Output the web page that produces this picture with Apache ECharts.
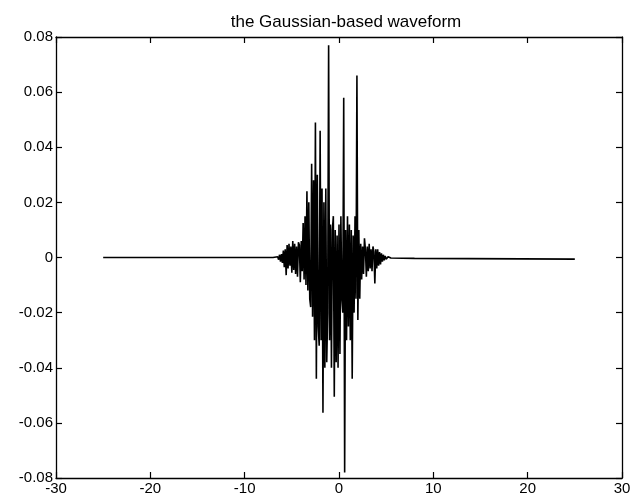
<!DOCTYPE html>
<html>
<head>
<meta charset="utf-8">
<script src="https://cdn.jsdelivr.net/npm/echarts@6/dist/echarts.min.js"></script>
<style>
html,body{margin:0;padding:0;background:#fff;}
#chart{width:642px;height:499px;}
</style>
</head>
<body>
<div id="chart"></div>
<script>
var titleText = "the Gaussian-based waveform";
var xTicks = [-30, -20, -10, 0, 10, 20, 30];
var yTicks = [-0.08, -0.06, -0.04, -0.02, 0, 0.02, 0.04, 0.06, 0.08];

var xs = [-25, -7,
  -6.5, -6.4, -6.3, -6.2, -6.1, -6.0, -5.9, -5.8, -5.7, -5.6, -5.5, -5.4, -5.3, -5.2, -5.1,
  -5.0, -4.9, -4.8, -4.7, -4.6, -4.5, -4.4, -4.3, -4.2, -4.1,
  -4.0, -3.9, -3.8, -3.7, -3.6, -3.5, -3.4, -3.3, -3.2, -3.1,
  -3.0, -2.9, -2.8, -2.7, -2.6, -2.5, -2.4, -2.3, -2.2, -2.1,
  -2.0, -1.9, -1.8, -1.7, -1.6, -1.5, -1.4, -1.3, -1.2, -1.1,
  -1.0, -0.9, -0.8, -0.7, -0.6, -0.5, -0.4, -0.3, -0.2, -0.1,
  0.0, 0.1, 0.2, 0.3, 0.4, 0.5, 0.6, 0.7, 0.8, 0.9,
  1.0, 1.1, 1.2, 1.3, 1.4, 1.5, 1.6, 1.7, 1.8, 1.9,
  2.0, 2.1, 2.2, 2.3, 2.4, 2.5, 2.6, 2.7, 2.8, 2.9,
  3.0, 3.1, 3.2, 3.3, 3.4, 3.5, 3.6, 3.7, 3.8, 3.9,
  4.0, 4.1, 4.2, 4.3, 4.4, 4.5, 4.6, 4.7, 4.8, 4.9,
  5.0, 5.2, 5.5, 8, 25];

var ys = [0, 0,
  0.0003, -0.0008, 0.0010, -0.0015, 0.0012, -0.0020, 0.0025, -0.0035, 0.0030, -0.0064, 0.0045, -0.0040, 0.0050, -0.0030, 0.0040,
  -0.0055, 0.0060, -0.0045, 0.0050, -0.0060, 0.0040, -0.0070, 0.0055, 0.0045, -0.0090,
  0.0060, -0.0050, 0.0125, -0.0080, 0.0150, -0.0100, 0.0240, -0.0120, 0.0200, -0.0150,
  -0.0180, 0.0340, -0.0215, 0.0280, -0.0300, 0.0490, -0.0440, 0.0300, -0.0250, -0.0320,
  0.0460, -0.0300, 0.0250, -0.0563, 0.0200, -0.0400, 0.0250, -0.0380, -0.0200, 0.0770,
  -0.0300, 0.0120, -0.0400, 0.0100, 0.0150, -0.0505, 0.0100, -0.0380, 0.0080, -0.0400,
  0.0120, -0.0350, 0.0150, -0.0150, -0.0200, 0.0580, -0.0780, 0.0100, -0.0300, 0.0150,
  -0.0250, 0.0120, -0.0300, 0.0100, -0.0440, 0.0080, -0.0200, 0.0150, -0.0150, 0.0660,
  -0.0227, 0.0100, -0.0150, 0.0050, -0.0080, 0.0040, -0.0060, 0.0070, 0.0030, -0.0070,
  0.0040, -0.0050, 0.0050, -0.0040, 0.0030, -0.0050, 0.0040, 0.0020, -0.0094, 0.0030,
  -0.0040, 0.0030, -0.0030, 0.0020, -0.0025, 0.0015, -0.0015, 0.0010, -0.0010, 0.0006,
  -0.0006, 0.0003, -0.0002, -0.0003, -0.0006];

var points = xs.map(function (x, i) { return [x, ys[i]]; });

var chart = echarts.init(document.getElementById('chart'), null, {renderer: 'canvas'});
var fontFam = '"Liberation Sans", Arial, Helvetica, sans-serif';
function yFmt(v) {
  if (Math.abs(v) < 1e-9) return '0';
  return v.toFixed(2);
}
function mkLine() { return {show: true, onZero: false, lineStyle: {color: '#000', width: 1.3}}; }
function mkTick() { return {show: true, inside: true, length: 6, lineStyle: {color: '#000', width: 1.2}}; }
chart.setOption({
  animation: false,
  backgroundColor: '#fff',
  title: {
    text: titleText,
    left: 341, top: 9, textAlign: 'center',
    textStyle: {fontFamily: fontFam, fontSize: 17, fontWeight: 'normal', color: '#000'}
  },
  grid: {left: 56, right: 20, top: 37, bottom: 21, containLabel: false},
  xAxis: [{
    type: 'value', min: xTicks[0], max: xTicks[xTicks.length - 1], interval: 10,
    position: 'bottom',
    axisLine: mkLine(), axisTick: mkTick(), splitLine: {show: false},
    axisLabel: {color: '#000', fontFamily: fontFam, fontSize: 15, margin: 3}
  }, {
    type: 'value', min: xTicks[0], max: xTicks[xTicks.length - 1], interval: 10,
    position: 'top',
    axisLine: mkLine(), axisTick: mkTick(), splitLine: {show: false},
    axisLabel: {show: false}
  }],
  yAxis: [{
    type: 'value', min: yTicks[0], max: yTicks[yTicks.length - 1], interval: 0.02,
    position: 'left',
    axisLine: mkLine(), axisTick: mkTick(), splitLine: {show: false},
    axisLabel: {color: '#000', fontFamily: fontFam, fontSize: 15, margin: 3, formatter: yFmt}
  }, {
    type: 'value', min: yTicks[0], max: yTicks[yTicks.length - 1], interval: 0.02,
    position: 'right',
    axisLine: mkLine(), axisTick: mkTick(), splitLine: {show: false},
    axisLabel: {show: false}
  }],
  series: [{
    type: 'line',
    data: points,
    showSymbol: false,
    symbol: 'none',
    lineStyle: {color: '#000', width: 1.6},
    xAxisIndex: 0, yAxisIndex: 0
  }]
});
</script>
</body>
</html>
